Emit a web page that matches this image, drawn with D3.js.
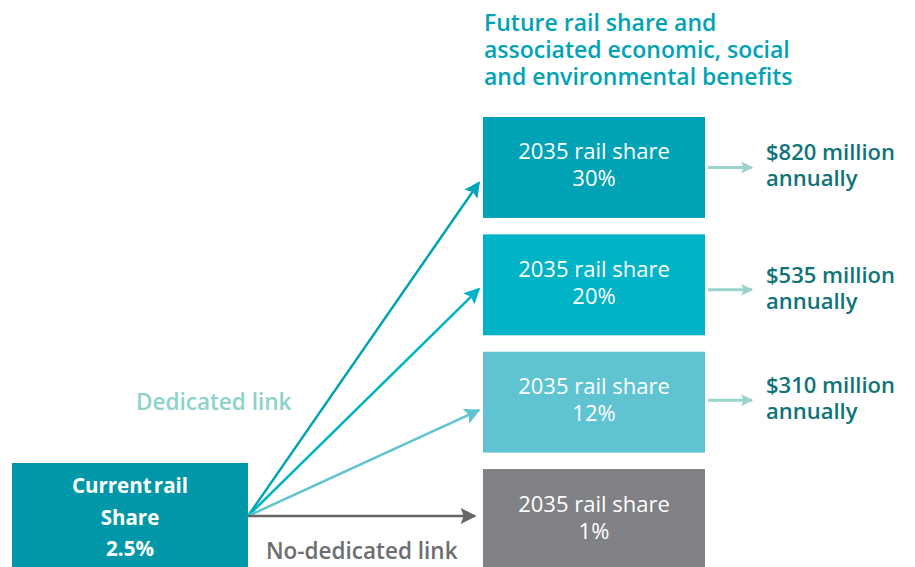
<!DOCTYPE html>
<html>
<head>
<meta charset="utf-8">
<script src="https://cdn.jsdelivr.net/npm/d3@7"></script>
<style>
  body { margin: 0; background: #fff; }
  svg { display: block; font-family: "Open Sans", sans-serif; }
</style>
</head>
<body>
<svg id="chart" width="915" height="567"></svg>
<script>
// chart data
const titleLines = ['Future rail share and', 'associated economic, social', 'and environmental benefits'];
const currentLines = ['Current rail', 'Share', '2.5%'];
const futureShares = ['30%', '20%', '12%', '1%'];
const boxLabel = '2035 rail share';
const benefits = ['$820 million', '$535 million', '$310 million', null];
const benefitUnit = 'annually';
const linkLabels = ['Dedicated link', 'No-dedicated link'];

const boxColors = ['#00a3b5', '#00b3c6', '#60c3d1', '#808184'];
const arrowColors = ['#00a3b5', '#00b3c6', '#60c3d1', '#666666'];

const svg = d3.select('#chart');

// vertical scale for the future boxes
const y = d3.scaleBand()
  .domain(futureShares)
  .range([117, 570])
  .paddingInner(0.14);

const boxX = 483, boxW = 222;
const origin = { x: 248, y: 516 };
const tipOffset = [15, 4, 8, -3.5];
const benOffset = [0, 5, -2];

// arrow markers
const defs = svg.append('defs');
arrowColors.concat(['#9ad3cc']).forEach((c, i) => {
  defs.append('marker')
    .attr('id', 'arr' + i)
    .attr('viewBox', '0 0 10 10')
    .attr('refX', 9)
    .attr('refY', 5)
    .attr('markerUnits', 'userSpaceOnUse')
    .attr('markerWidth', i === 4 ? 13 : 18)
    .attr('markerHeight', i === 4 ? 12 : 16)
    .attr('orient', 'auto')
    .append('path')
    .attr('d', 'M0,0 L10,5 L0,10 L2,5 Z')
    .attr('fill', c);
});

// title
svg.append('text')
  .attr('x', 484)
  .attr('y', 31)
  .attr('fill', '#00a3b5')
  .attr('font-size', 23)
  .attr('font-weight', 600)
  .selectAll('tspan')
  .data(titleLines)
  .join('tspan')
  .attr('x', 484)
  .attr('dy', (d, i) => i ? 27 : 0)
  .text(d => d);

// current box
svg.append('rect')
  .attr('x', 12).attr('y', 463)
  .attr('width', 236).attr('height', 110)
  .attr('fill', '#0098a8');

svg.append('g')
  .selectAll('text')
  .data(currentLines)
  .join('text')
  .attr('x', 130)
  .attr('y', (d, i) => 493 + i * 31.5)
  .attr('text-anchor', 'middle')
  .attr('fill', '#fff')
  .attr('font-size', 20.5)
  .attr('font-weight', 700)
  .attr('word-spacing', -3)
  .text(d => d);

// links from current to future
svg.append('g')
  .selectAll('line')
  .data(futureShares)
  .join('line')
  .attr('x1', origin.x)
  .attr('y1', origin.y)
  .attr('x2', (d, i) => i === 3 ? 475 : 479)
  .attr('y2', (d, i) => y(d) + y.bandwidth() / 2 + tipOffset[i])
  .attr('stroke', (d, i) => arrowColors[i])
  .attr('stroke-width', 2.5)
  .attr('marker-end', (d, i) => `url(#arr${i})`);

// future boxes
const boxes = svg.append('g')
  .selectAll('g')
  .data(futureShares)
  .join('g')
  .attr('transform', d => `translate(${boxX},${y(d)})`);

boxes.append('rect')
  .attr('width', boxW)
  .attr('height', y.bandwidth())
  .attr('fill', (d, i) => boxColors[i]);

boxes.append('text')
  .attr('x', boxW / 2)
  .attr('y', y.bandwidth() / 2 - 8)
  .attr('text-anchor', 'middle')
  .attr('fill', '#fff')
  .attr('font-size', 22)
  .attr('font-weight', 500)
  .text(boxLabel);

boxes.append('text')
  .attr('x', boxW / 2)
  .attr('y', y.bandwidth() / 2 + 19)
  .attr('text-anchor', 'middle')
  .attr('fill', '#fff')
  .attr('font-size', 22)
  .attr('font-weight', 500)
  .text(d => d);

// benefits
const ben = boxes.filter((d, i) => benefits[i]);

ben.append('line')
  .attr('x1', 708 - boxX)
  .attr('x2', 752 - boxX)
  .attr('y1', (d, i) => y.bandwidth() / 2 + benOffset[i])
  .attr('y2', (d, i) => y.bandwidth() / 2 + benOffset[i])
  .attr('stroke', '#9ad3cc')
  .attr('stroke-width', 3)
  .attr('marker-end', 'url(#arr4)');

ben.append('text')
  .attr('x', 766 - boxX)
  .attr('y', (d, i) => y.bandwidth() / 2 - 7 + benOffset[i])
  .attr('fill', '#0e7479')
  .attr('font-size', 22)
  .attr('font-weight', 600)
  .text((d, i) => benefits[i]);

ben.append('text')
  .attr('x', 766 - boxX)
  .attr('y', (d, i) => y.bandwidth() / 2 + 19 + benOffset[i])
  .attr('fill', '#0e7479')
  .attr('font-size', 22)
  .attr('font-weight', 600)
  .text(benefitUnit);

// link labels
svg.append('text')
  .attr('x', 136).attr('y', 410)
  .attr('fill', '#8dd3cb')
  .attr('font-size', 22.5)
  .attr('font-weight', 600)
  .text(linkLabels[0]);

svg.append('text')
  .attr('x', 266).attr('y', 559)
  .attr('fill', '#6d6e70')
  .attr('font-size', 22.5)
  .attr('font-weight', 600)
  .text(linkLabels[1]);
</script>
</body>
</html>
